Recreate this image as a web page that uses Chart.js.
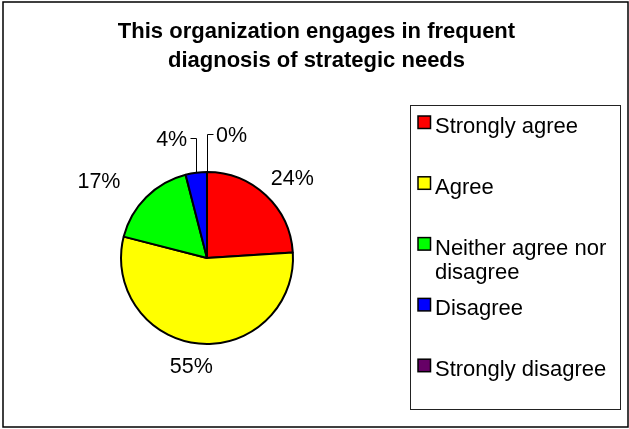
<!DOCTYPE html>
<html><head><meta charset="utf-8">
<script src="https://cdn.jsdelivr.net/npm/chart.js@4/dist/chart.umd.min.js"></script>
<style>html,body{margin:0;padding:0;background:#fff;} #wrap{width:629px;height:429px;position:relative;}</style>
</head><body><div id="wrap"><canvas id="c" width="629" height="429"></canvas></div>
<script>
const titleLines = ["This organization engages in frequent", "diagnosis of strategic needs"];
const categories = ["Strongly agree", "Agree", "Neither agree nor disagree", "Disagree", "Strongly disagree"];
const values = [24, 55, 17, 4, 0];
const colors = ["#FF0000", "#FFFF00", "#00FF00", "#0000FF", "#660066"];

// label placement styles (not data)
const labelStyles = [
  {gap: 17, dx: 0, dy: 0},
  {gap: 17, dx: -4, dy: -3},
  {gap: 17, dx: -20, dy: 1},
  {leader: -1, rise: 34.5},
  {leader: 1, rise: 38}
];
const FONT = '"Liberation Sans", Arial, sans-serif';
const FS = 21.5;
const LFS = 22;
const CAP = 15.4;

Chart.defaults.font.family = FONT;

const decor = {
  id: 'decor',
  afterDatasetsDraw(chart) {
    const ctx = chart.ctx;
    const meta = chart.getDatasetMeta(0);
    const total = values.reduce((a, b) => a + b, 0);
    ctx.save();
    ctx.fillStyle = '#000';
    ctx.strokeStyle = '#000';
    ctx.lineWidth = 1;
    ctx.font = FS + 'px ' + FONT;
    ctx.textBaseline = 'alphabetic';
    meta.data.forEach((arc, i) => {
      const p = arc.getProps(['x', 'y', 'startAngle', 'endAngle', 'outerRadius'], true);
      const mid = (p.startAngle + p.endAngle) / 2;
      const ux = Math.cos(mid), uy = Math.sin(mid);
      const txt = Math.round(values[i] / total * 100) + '%';
      const w = ctx.measureText(txt).width;
      const st = labelStyles[i];
      if (st.leader) {
        const ex = p.x + ux * p.outerRadius, ey = p.y + uy * p.outerRadius;
        const ty = ey - st.rise;
        const hx = ex + st.leader * 6;
        ctx.beginPath();
        ctx.moveTo(Math.round(ex) + 0.5, ey);
        ctx.lineTo(Math.round(ex) + 0.5, Math.round(ty) + 0.5);
        ctx.lineTo(Math.round(hx) + 0.5, Math.round(ty) + 0.5);
        ctx.stroke();
        ctx.textAlign = st.leader < 0 ? 'right' : 'left';
        ctx.fillText(txt, hx + st.leader * 3, ty + 8);
      } else {
        const r = p.outerRadius + st.gap;
        const cx = p.x + ux * r + ux * w / 2 + st.dx;
        const cy = p.y + uy * r + uy * CAP / 2 + st.dy;
        ctx.textAlign = 'center';
        ctx.fillText(txt, cx, cy + CAP / 2);
      }
    });
    ctx.restore();
  },
  afterDraw(chart) {
    const ctx = chart.ctx;
    ctx.save();
    // outer frame
    ctx.strokeStyle = '#000';
    ctx.lineWidth = 1.5;
    ctx.strokeRect(3, 2, 625, 425);
    // title
    ctx.fillStyle = '#000';
    ctx.font = 'bold 22px ' + FONT;
    ctx.textAlign = 'center';
    ctx.textBaseline = 'alphabetic';
    titleLines.forEach((t, i) => ctx.fillText(t, 316.5, 38 + i * 29));
    // legend box
    const lx = 410.5, ly = 105.5, lw = 210, lh = 304;
    ctx.strokeStyle = '#222';
    ctx.lineWidth = 1;
    ctx.strokeRect(lx, ly, lw, lh);
    const step = lh / categories.length;
    const textX = 435;
    const maxW = lx + lw - textX - 4;
    ctx.font = LFS + 'px ' + FONT;
    ctx.textAlign = 'left';
    categories.forEach((c, i) => {
      const base = ly + 27.5 + i * step;
      // swatch
      ctx.fillStyle = colors[i];
      ctx.fillRect(418, base - 17, 12.5, 12.5);
      ctx.strokeStyle = '#000';
      ctx.lineWidth = 1.5;
      ctx.strokeRect(418, base - 17, 12.5, 12.5);
      // wrapped text
      const words = c.split(' ');
      const lines = [];
      let cur = '';
      words.forEach(wd => {
        const test = cur ? cur + ' ' + wd : wd;
        if (ctx.measureText(test).width > maxW && cur) { lines.push(cur); cur = wd; }
        else cur = test;
      });
      lines.push(cur);
      ctx.fillStyle = '#000';
      lines.forEach((ln, j) => ctx.fillText(ln, textX, base + j * 24.5));
    });
    ctx.restore();
  }
};

new Chart(document.getElementById('c'), {
  type: 'pie',
  data: {
    labels: categories,
    datasets: [{
      data: values,
      backgroundColor: colors,
      borderColor: '#000',
      borderWidth: 2,
      hoverBorderWidth: 2,
      hoverOffset: 0,
      radius: 86
    }]
  },
  options: {
    responsive: false,
    animation: false,
    events: [],
    layout: {padding: {left: 100, right: 315, top: 160, bottom: 73}},
    plugins: {legend: {display: false}, title: {display: false}, tooltip: {enabled: false}}
  },
  plugins: [decor]
});
</script>
</body></html>
